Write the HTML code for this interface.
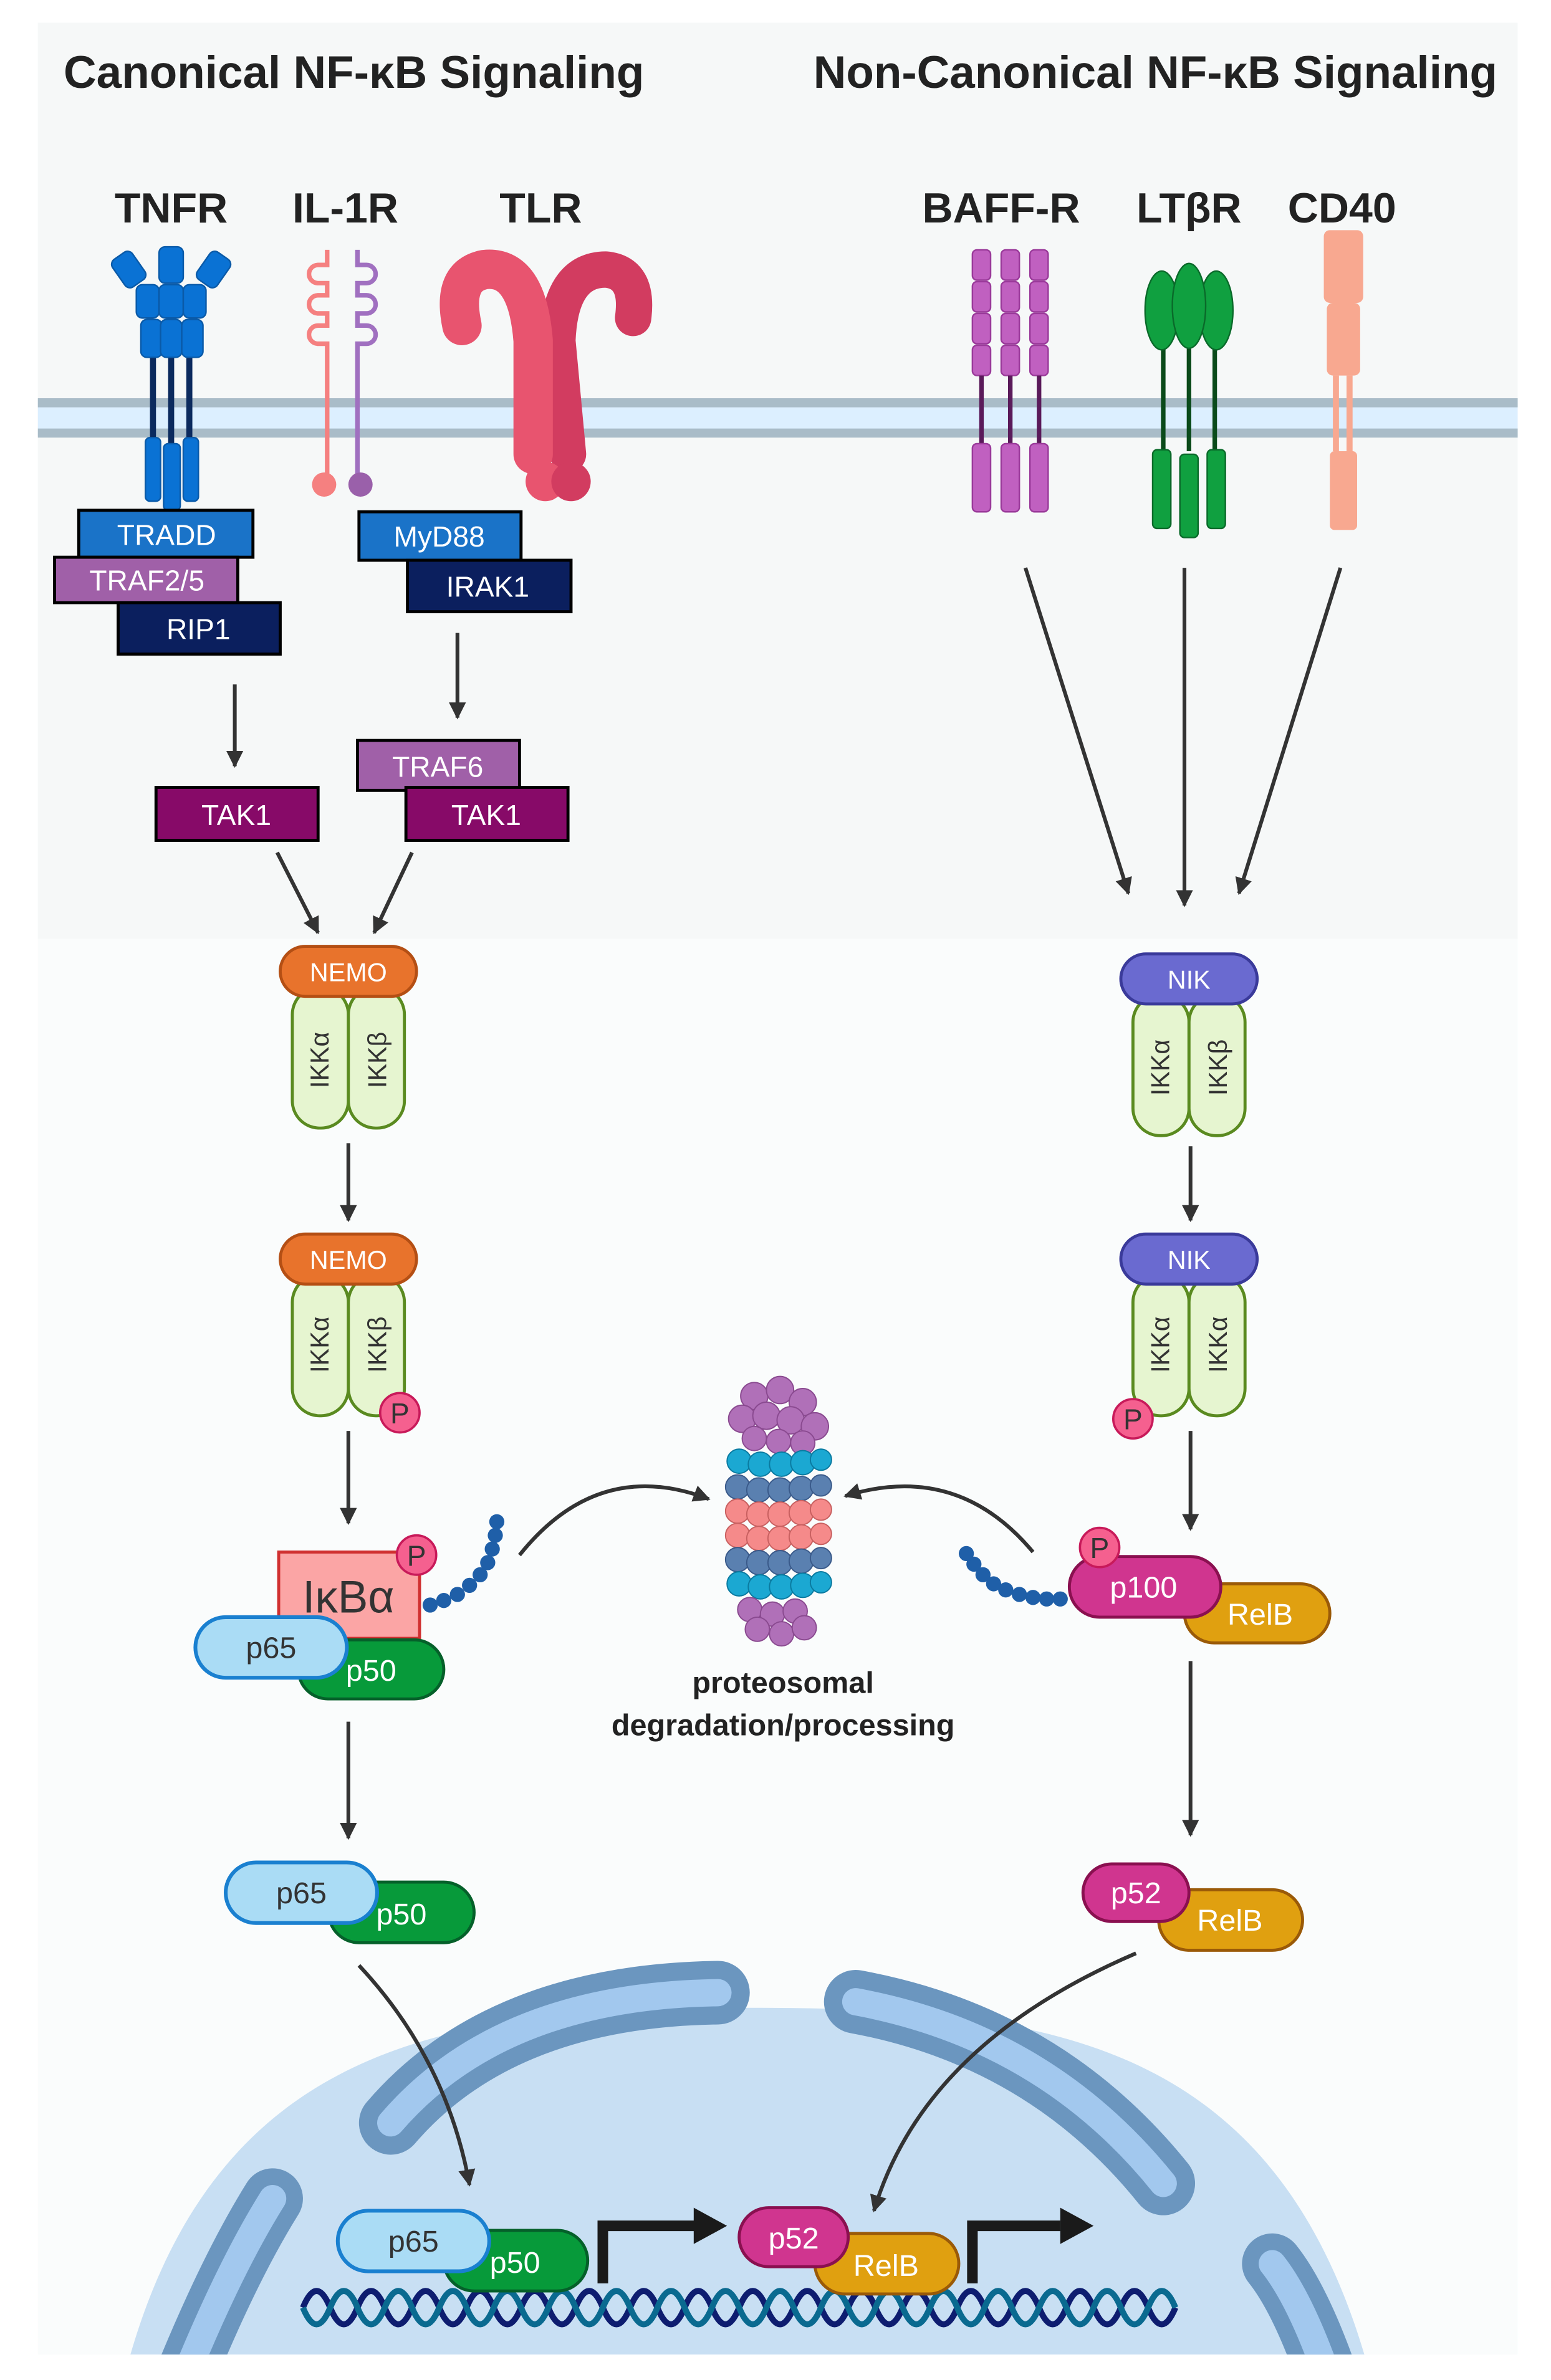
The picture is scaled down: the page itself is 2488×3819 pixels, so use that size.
<!DOCTYPE html>
<html><head><meta charset="utf-8"><style>
html,body{margin:0;padding:0;background:#fff;width:2488px;height:3819px;overflow:hidden;}
svg{display:block;}
text{font-family:"Liberation Sans",sans-serif;}
</style></head><body>
<svg width="2488" height="3819" viewBox="0 0 1024 1571.8" xmlns="http://www.w3.org/2000/svg">
<defs>
<marker id="ah" viewBox="0 0 10 10" refX="9" refY="5" markerWidth="4.5" markerHeight="4.5" orient="auto"><path d="M0,0 L10,5 L0,10 z" fill="#333"/></marker>
<clipPath id="clipb"><rect x="0" y="0" width="1024" height="1555"/></clipPath>
</defs>
<rect x="0" y="0" width="1024" height="1572" fill="#fff"/>
<rect x="25" y="15" width="977" height="605" fill="#f6f8f8"/>
<rect x="25" y="620" width="977" height="935" fill="#fafcfc"/>

<!-- nucleus -->
<g clip-path="url(#clipb)">
<path d="M82,1570 C140,1345 300,1326 495,1326 C690,1326 845,1345 905,1570 Z" fill="#c8dff3"/>
<g fill="none" stroke-linecap="round">
<path d="M258,1402 Q330,1318 474,1316" stroke="#6b96bf" stroke-width="42"/>
<path d="M258,1402 Q330,1318 474,1316" stroke="#a2c8ee" stroke-width="18"/>
<path d="M565,1322 Q690,1345 768,1442" stroke="#6b96bf" stroke-width="42"/>
<path d="M565,1322 Q690,1345 768,1442" stroke="#a2c8ee" stroke-width="18"/>
<path d="M180,1452 Q150,1500 118,1580" stroke="#6b96bf" stroke-width="40"/>
<path d="M180,1452 Q150,1500 118,1580" stroke="#a2c8ee" stroke-width="18"/>
<path d="M840,1495 Q860,1520 880,1580" stroke="#6b96bf" stroke-width="40"/>
<path d="M840,1495 Q860,1520 880,1580" stroke="#a2c8ee" stroke-width="18"/>
</g>
</g>

<!-- DNA -->
<g fill="none" stroke-width="4">
<path stroke="#0e1d70" d="M200,1524 q9,-22 18,0 t18,0 t18,0 t18,0 t18,0 t18,0 t18,0 t18,0 t18,0 t18,0 t18,0 t18,0 t18,0 t18,0 t18,0 t18,0 t18,0 t18,0 t18,0 t18,0 t18,0 t18,0 t18,0 t18,0 t18,0 t18,0 t18,0 t18,0 t18,0 t18,0 t18,0 t18,0"/>
<path stroke="#0a6a90" d="M200,1524 q9,22 18,0 t18,0 t18,0 t18,0 t18,0 t18,0 t18,0 t18,0 t18,0 t18,0 t18,0 t18,0 t18,0 t18,0 t18,0 t18,0 t18,0 t18,0 t18,0 t18,0 t18,0 t18,0 t18,0 t18,0 t18,0 t18,0 t18,0 t18,0 t18,0 t18,0 t18,0 t18,0"/>
</g>

<!-- titles -->
<text x="42" y="58" font-size="30" font-weight="bold" fill="#222">Canonical NF-κB Signaling</text>
<text x="537" y="58" font-size="30" font-weight="bold" fill="#222">Non-Canonical NF-κB Signaling</text>
<g font-size="28" font-weight="bold" fill="#222" text-anchor="middle">
<text x="113" y="147">TNFR</text><text x="228" y="147">IL-1R</text><text x="357" y="147">TLR</text>
<text x="661" y="147">BAFF-R</text><text x="785" y="147">LTβR</text><text x="886" y="147">CD40</text>
</g>

<!-- membrane -->
<rect x="25" y="264" width="977" height="24" fill="#dcefff"/>
<rect x="25" y="263" width="977" height="6" fill="#a9bcc8"/>
<rect x="25" y="283" width="977" height="6" fill="#a9bcc8"/>

<!-- TNFR -->
<g fill="#0a72d4" stroke="#0a5aa8" stroke-width="1">
<line x1="101" y1="235" x2="101" y2="295" stroke="#0b2a5e" stroke-width="4"/>
<line x1="113" y1="235" x2="113" y2="295" stroke="#0b2a5e" stroke-width="4"/>
<line x1="125" y1="235" x2="125" y2="295" stroke="#0b2a5e" stroke-width="4"/>
<rect x="77" y="167" width="16" height="22" rx="4" transform="rotate(-35 85 178)"/>
<rect x="105" y="163" width="16" height="24" rx="4"/>
<rect x="133" y="167" width="16" height="22" rx="4" transform="rotate(35 141 178)"/>
<rect x="90" y="188" width="15" height="22" rx="4"/>
<rect x="105" y="188" width="16" height="22" rx="4"/>
<rect x="121" y="188" width="15" height="22" rx="4"/>
<rect x="93" y="211" width="14" height="25" rx="4"/>
<rect x="106" y="211" width="14" height="25" rx="4"/>
<rect x="120" y="211" width="14" height="25" rx="4"/>
<rect x="96" y="289" width="10" height="42" rx="3"/>
<rect x="108" y="293" width="11" height="44" rx="3"/>
<rect x="121" y="289" width="10" height="42" rx="3"/>
</g>

<!-- IL-1R -->
<g fill="none" stroke-width="3">
<path stroke="#f58080" d="M216,165 V175 h-6 a6,6 0 0 0 0,12 h6 v8 h-6 a6,6 0 0 0 0,12 h6 v8 h-6 a6,6 0 0 0 0,12 h6 V318"/>
<path stroke="#a070c0" d="M236,165 V175 h6 a6,6 0 0 1 0,12 h-6 v8 h6 a6,6 0 0 1 0,12 h-6 v8 h6 a6,6 0 0 1 0,12 h-6 V318"/>
</g>
<circle cx="214" cy="320" r="8" fill="#f58080"/>
<circle cx="238" cy="320" r="8" fill="#9a60aa"/>

<!-- TLR -->
<g fill="none" stroke-linecap="round" stroke-linejoin="round">
<path d="M375,300 L368,225 Q370,178 400,178 Q422,180 418,210" stroke="#d23c60" stroke-width="24"/>
<path d="M352,300 L352,225 Q348,175 320,178 Q298,182 305,215" stroke="#e8546f" stroke-width="26"/>
<circle cx="360" cy="318" r="13" fill="#e8546f"/>
<circle cx="377" cy="318" r="13" fill="#d23c60"/>
</g>

<!-- BAFF-R -->
<g fill="#c060c0" stroke="#9a3a9a" stroke-width="1">
<g id="bcol"><rect x="642" y="165" width="12" height="20" rx="3"/><rect x="642" y="186" width="12" height="20" rx="3"/><rect x="642" y="207" width="12" height="20" rx="3"/><rect x="642" y="228" width="12" height="20" rx="3"/><line x1="648" y1="248" x2="648" y2="293" stroke="#5a1a5a" stroke-width="3"/><rect x="642" y="293" width="12" height="45" rx="3"/></g>
<use href="#bcol" x="19"/><use href="#bcol" x="38"/>
</g>

<!-- LTbR -->
<g fill="#10a040" stroke="#0a6a2a" stroke-width="1">
<line x1="768" y1="225" x2="768" y2="298" stroke="#0a4a1a" stroke-width="3"/>
<line x1="785" y1="225" x2="785" y2="298" stroke="#0a4a1a" stroke-width="3"/>
<line x1="802" y1="225" x2="802" y2="298" stroke="#0a4a1a" stroke-width="3"/>
<ellipse cx="767" cy="205" rx="11" ry="26"/><ellipse cx="803" cy="205" rx="11" ry="26"/><ellipse cx="785" cy="202" rx="11" ry="28"/>
<rect x="761" y="297" width="12" height="52" rx="3"/><rect x="779" y="300" width="12" height="55" rx="3"/><rect x="797" y="297" width="12" height="52" rx="3"/>
</g>

<!-- CD40 -->
<g fill="#f8a890">
<rect x="874" y="152" width="26" height="48" rx="4"/>
<rect x="876" y="200" width="22" height="48" rx="4"/>
<rect x="880" y="248" width="4" height="50"/><rect x="889" y="248" width="4" height="50"/>
<rect x="878" y="298" width="18" height="52" rx="3"/>
</g>

<!-- left adaptor boxes -->
<g stroke="#000" stroke-width="2" font-size="19" text-anchor="middle">
<rect x="52" y="337" width="115" height="31" fill="#1a73c8"/><text x="110" y="360" fill="#fff" stroke="none">TRADD</text>
<rect x="36" y="368" width="121" height="30" fill="#a060a8"/><text x="97" y="390" fill="#fff" stroke="none">TRAF2/5</text>
<rect x="78" y="398" width="107" height="34" fill="#0b1f5e"/><text x="131" y="422" fill="#fff" stroke="none">RIP1</text>
<rect x="237" y="338" width="107" height="32" fill="#1a73c8"/><text x="290" y="361" fill="#fff" stroke="none">MyD88</text>
<rect x="269" y="370" width="108" height="34" fill="#0b1f5e"/><text x="322" y="394" fill="#fff" stroke="none">IRAK1</text>
<rect x="236" y="489" width="107" height="33" fill="#a060a8"/><text x="289" y="513" fill="#fff" stroke="none">TRAF6</text>
<rect x="103" y="520" width="107" height="35" fill="#870a68"/><text x="156" y="545" fill="#fff" stroke="none">TAK1</text>
<rect x="268" y="520" width="107" height="35" fill="#870a68"/><text x="321" y="545" fill="#fff" stroke="none">TAK1</text>
</g>

<!-- arrows -->
<g stroke="#333" stroke-width="2.5" fill="none" marker-end="url(#ah)">
<line x1="155" y1="452" x2="155" y2="506"/>
<line x1="302" y1="418" x2="302" y2="474"/>
<line x1="183" y1="563" x2="210" y2="616"/>
<line x1="272" y1="563" x2="247" y2="616"/>
<line x1="230" y1="755" x2="230" y2="806"/>
<line x1="230" y1="945" x2="230" y2="1006"/>
<line x1="230" y1="1137" x2="230" y2="1214"/>
<path d="M237,1298 Q295,1360 310,1443"/>
<line x1="677" y1="375" x2="745" y2="590"/>
<line x1="782" y1="375" x2="782" y2="598"/>
<line x1="885" y1="375" x2="818" y2="590"/>
<line x1="786" y1="757" x2="786" y2="806"/>
<line x1="786" y1="945" x2="786" y2="1010"/>
<line x1="786" y1="1097" x2="786" y2="1212"/>
<path d="M750,1290 Q610,1350 577,1460"/>
<path d="M343,1027 Q395,962 468,990"/>
<path d="M682,1025 Q632,965 558,988"/>
</g>

<!-- IKK complexes -->
<g font-size="17" fill="#333">
<rect x="193" y="652" width="37" height="93" rx="18" fill="#e6f5d0" stroke="#5a8a20" stroke-width="2"/>
<rect x="230" y="652" width="37" height="93" rx="18" fill="#e6f5d0" stroke="#5a8a20" stroke-width="2"/>
<text transform="translate(217,700) rotate(-90)" text-anchor="middle">IKKα</text>
<text transform="translate(255,700) rotate(-90)" text-anchor="middle">IKKβ</text>
<rect x="185" y="625" width="90" height="33" rx="16.5" fill="#e8732c" stroke="#b44f14" stroke-width="2"/>
<text x="230" y="648" fill="#fff" text-anchor="middle">NEMO</text>

<rect x="193" y="842" width="37" height="93" rx="18" fill="#e6f5d0" stroke="#5a8a20" stroke-width="2"/>
<rect x="230" y="842" width="37" height="93" rx="18" fill="#e6f5d0" stroke="#5a8a20" stroke-width="2"/>
<text transform="translate(217,888) rotate(-90)" text-anchor="middle">IKKα</text>
<text transform="translate(255,888) rotate(-90)" text-anchor="middle">IKKβ</text>
<rect x="185" y="815" width="90" height="33" rx="16.5" fill="#e8732c" stroke="#b44f14" stroke-width="2"/>
<text x="230" y="838" fill="#fff" text-anchor="middle">NEMO</text>

<rect x="748" y="657" width="37" height="93" rx="18" fill="#e6f5d0" stroke="#5a8a20" stroke-width="2"/>
<rect x="785" y="657" width="37" height="93" rx="18" fill="#e6f5d0" stroke="#5a8a20" stroke-width="2"/>
<text transform="translate(772,705) rotate(-90)" text-anchor="middle">IKKα</text>
<text transform="translate(810,705) rotate(-90)" text-anchor="middle">IKKβ</text>
<rect x="740" y="630" width="90" height="33" rx="16.5" fill="#6a6ad0" stroke="#3a3a9a" stroke-width="2"/>
<text x="785" y="653" fill="#fff" text-anchor="middle">NIK</text>

<rect x="748" y="842" width="37" height="93" rx="18" fill="#e6f5d0" stroke="#5a8a20" stroke-width="2"/>
<rect x="785" y="842" width="37" height="93" rx="18" fill="#e6f5d0" stroke="#5a8a20" stroke-width="2"/>
<text transform="translate(772,888) rotate(-90)" text-anchor="middle">IKKα</text>
<text transform="translate(810,888) rotate(-90)" text-anchor="middle">IKKα</text>
<rect x="740" y="815" width="90" height="33" rx="16.5" fill="#6a6ad0" stroke="#3a3a9a" stroke-width="2"/>
<text x="785" y="838" fill="#fff" text-anchor="middle">NIK</text>
</g>

<!-- ubiquitin chains -->
<g fill="#1f5fa8">
<circle cx="284" cy="1060" r="5"/><circle cx="293" cy="1057" r="5"/><circle cx="302" cy="1053" r="5"/><circle cx="310" cy="1047" r="5"/><circle cx="317" cy="1040" r="5"/><circle cx="322" cy="1032" r="5"/><circle cx="325" cy="1023" r="5"/><circle cx="327" cy="1014" r="5"/><circle cx="328" cy="1005" r="5"/>
<circle cx="700" cy="1056" r="5"/><circle cx="691" cy="1056" r="5"/><circle cx="682" cy="1055" r="5"/><circle cx="673" cy="1053" r="5"/><circle cx="664" cy="1050" r="5"/><circle cx="656" cy="1046" r="5"/><circle cx="649" cy="1040" r="5"/><circle cx="643" cy="1033" r="5"/><circle cx="638" cy="1026" r="5"/>
</g>

<!-- IkBa complex -->
<rect x="184" y="1025" width="93" height="57" fill="#fba5a5" stroke="#d03030" stroke-width="2"/>
<text x="230" y="1065" font-size="30" fill="#333" text-anchor="middle">IκBα</text>
<g font-size="20" text-anchor="middle">
<rect x="197" y="1083" width="96" height="39" rx="19.5" fill="#079a3a" stroke="#05602a" stroke-width="2"/>
<text x="245" y="1110" fill="#fff">p50</text>
<rect x="129" y="1068" width="100" height="40" rx="20" fill="#aadcf5" stroke="#1a80d0" stroke-width="2.5"/>
<text x="179" y="1095" fill="#333">p65</text>

<rect x="217" y="1243" width="96" height="40" rx="20" fill="#079a3a" stroke="#05602a" stroke-width="2"/>
<text x="265" y="1271" fill="#fff">p50</text>
<rect x="149" y="1230" width="100" height="40" rx="20" fill="#aadcf5" stroke="#1a80d0" stroke-width="2.5"/>
<text x="199" y="1257" fill="#333">p65</text>

<rect x="293" y="1473" width="95" height="40" rx="20" fill="#079a3a" stroke="#05602a" stroke-width="2"/>
<text x="340" y="1501" fill="#fff">p50</text>
<rect x="223" y="1460" width="100" height="40" rx="20" fill="#aadcf5" stroke="#1a80d0" stroke-width="2.5"/>
<text x="273" y="1487" fill="#333">p65</text>

<rect x="782" y="1046" width="96" height="39" rx="19.5" fill="#e0a010" stroke="#9a5a08" stroke-width="2"/>
<text x="832" y="1073" fill="#fff">RelB</text>
<rect x="706" y="1028" width="100" height="40" rx="20" fill="#d0358f" stroke="#8a1050" stroke-width="2"/>
<text x="755" y="1055" fill="#fff">p100</text>

<rect x="765" y="1248" width="95" height="40" rx="20" fill="#e0a010" stroke="#9a5a08" stroke-width="2"/>
<text x="812" y="1275" fill="#fff">RelB</text>
<rect x="715" y="1231" width="70" height="38" rx="19" fill="#d0358f" stroke="#8a1050" stroke-width="2"/>
<text x="750" y="1257" fill="#fff">p52</text>

<rect x="538" y="1475" width="95" height="40" rx="20" fill="#e0a010" stroke="#9a5a08" stroke-width="2"/>
<text x="585" y="1503" fill="#fff">RelB</text>
<rect x="488" y="1458" width="72" height="39" rx="19.5" fill="#d0358f" stroke="#8a1050" stroke-width="2"/>
<text x="524" y="1485" fill="#fff">p52</text>
</g>

<!-- P circles -->
<g font-size="19" text-anchor="middle" fill="#333">
<circle cx="264" cy="933" r="13" fill="#f5608f" stroke="#c81a5a" stroke-width="1.5"/><text x="264" y="940">P</text>
<circle cx="275" cy="1027" r="13" fill="#f5608f" stroke="#c81a5a" stroke-width="1.5"/><text x="275" y="1034">P</text>
<circle cx="748" cy="937" r="13" fill="#f5608f" stroke="#c81a5a" stroke-width="1.5"/><text x="748" y="944">P</text>
<circle cx="726" cy="1022" r="13" fill="#f5608f" stroke="#c81a5a" stroke-width="1.5"/><text x="726" y="1029">P</text>
</g>

<!-- transcription arrows -->
<g fill="none" stroke="#1a1a1a" stroke-width="7">
<path d="M398,1508 V1470 H460"/>
<path d="M642,1508 V1470 H700"/>
</g>
<path d="M458,1458 L480,1470 L458,1482 z" fill="#1a1a1a"/>
<path d="M700,1458 L722,1470 L700,1482 z" fill="#1a1a1a"/>

<!-- proteasome -->
<g stroke-width="0.8">
<g fill="#b070b8" stroke="#8a4a90">
<circle cx="498" cy="922" r="9"/><circle cx="515" cy="918" r="9"/><circle cx="530" cy="926" r="9"/><circle cx="490" cy="937" r="9"/><circle cx="506" cy="935" r="9"/><circle cx="522" cy="938" r="9"/><circle cx="538" cy="942" r="9"/><circle cx="498" cy="950" r="8"/><circle cx="514" cy="952" r="8"/><circle cx="530" cy="953" r="8"/>
</g>
<g fill="#1ba8d2" stroke="#0a7aa0"><circle cx="488" cy="965" r="8"/><circle cx="502" cy="967" r="8"/><circle cx="516" cy="967" r="8"/><circle cx="530" cy="966" r="8"/><circle cx="542" cy="964" r="7"/></g>
<g fill="#5a80b0" stroke="#3a5a8a"><circle cx="487" cy="982" r="8"/><circle cx="501" cy="984" r="8"/><circle cx="515" cy="984" r="8"/><circle cx="529" cy="983" r="8"/><circle cx="542" cy="981" r="7"/></g>
<g fill="#f58a8a" stroke="#c86060"><circle cx="487" cy="998" r="8"/><circle cx="501" cy="1000" r="8"/><circle cx="515" cy="1000" r="8"/><circle cx="529" cy="999" r="8"/><circle cx="542" cy="997" r="7"/>
<circle cx="487" cy="1014" r="8"/><circle cx="501" cy="1016" r="8"/><circle cx="515" cy="1016" r="8"/><circle cx="529" cy="1015" r="8"/><circle cx="542" cy="1013" r="7"/></g>
<g fill="#5a80b0" stroke="#3a5a8a"><circle cx="487" cy="1030" r="8"/><circle cx="501" cy="1032" r="8"/><circle cx="515" cy="1032" r="8"/><circle cx="529" cy="1031" r="8"/><circle cx="542" cy="1029" r="7"/></g>
<g fill="#1ba8d2" stroke="#0a7aa0"><circle cx="488" cy="1046" r="8"/><circle cx="502" cy="1048" r="8"/><circle cx="516" cy="1048" r="8"/><circle cx="530" cy="1047" r="8"/><circle cx="542" cy="1045" r="7"/></g>
<g fill="#b070b8" stroke="#8a4a90"><circle cx="495" cy="1063" r="8"/><circle cx="510" cy="1066" r="8"/><circle cx="525" cy="1064" r="8"/><circle cx="500" cy="1076" r="8"/><circle cx="516" cy="1079" r="8"/><circle cx="531" cy="1075" r="8"/></g>
</g>
<g font-size="20" font-weight="bold" fill="#222" text-anchor="middle">
<text x="517" y="1118">proteosomal</text>
<text x="517" y="1146">degradation/processing</text>
</g>
</svg>
</body></html>
